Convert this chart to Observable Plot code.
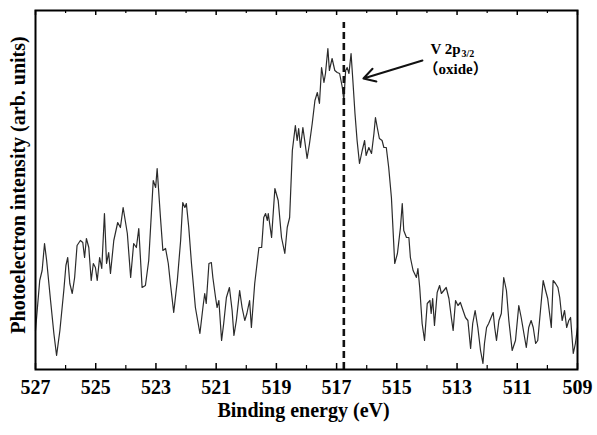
<!DOCTYPE html>
<html>
<head>
<meta charset="utf-8">
<script src="https://cdn.jsdelivr.net/npm/d3@7"></script>
<script src="https://cdn.jsdelivr.net/npm/@observablehq/plot@0.6"></script>
<style>
  html, body { margin: 0; padding: 0; background: #fff; }
</style>
</head>
<body>
<div id="chart"></div>
<script>
// Binding energy (eV)
const energy = [
  527.00,526.86,526.78,526.70,526.63,526.50,526.39,526.30,526.19,526.06,
  525.99,525.93,525.86,525.78,525.70,525.62,525.51,525.43,525.37,525.31,
  525.23,525.15,525.08,525.01,524.95,524.87,524.80,524.71,524.64,524.57,
  524.51,524.40,524.27,524.18,524.09,523.95,523.84,523.74,523.65,523.57,
  523.46,523.35,523.24,523.09,523.01,522.96,522.85,522.77,522.68,
  522.59,522.52,522.41,522.29,522.18,522.11,522.04,521.99,521.91,521.82,
  521.69,521.54,521.44,521.38,521.33,521.24,521.16,521.11,521.02,520.97,
  520.91,520.82,520.75,520.66,520.56,520.47,520.41,520.33,520.22,520.14,
  520.05,519.98,519.89,519.83,519.72,519.58,519.49,519.42,519.36,519.30,
  519.27,519.16,519.05,518.94,518.83,518.72,518.64,518.56,518.47,
  518.37,518.31,518.26,518.20,518.12,518.06,517.98,517.90,517.81,517.72,
  517.64,517.57,517.50,517.42,517.37,517.29,517.24,517.15,517.06,516.98,
  516.90,516.81,516.76,516.70,516.65,516.59,516.52,516.46,516.39,516.32,
  516.24,516.15,516.07,516.02,515.93,515.84,515.76,515.71,515.65,515.58,
  515.49,515.43,515.35,515.27,515.18,515.07,514.98,514.88,514.82,
  514.77,514.68,514.60,514.55,514.46,514.35,514.30,514.24,514.16,514.08,
  513.99,513.90,513.86,513.81,513.75,513.66,513.58,513.52,513.44,513.36,
  513.27,513.19,513.13,513.05,512.97,512.89,512.80,512.72,512.64,512.55,
  512.48,512.40,512.31,512.22,512.14,512.09,512.02,511.95,511.87,511.80,
  511.75,511.69,511.61,511.53,511.45,511.36,511.28,511.17,511.06,510.95,
  510.87,510.78,510.70,510.62,510.54,510.47,510.39,510.32,510.23,510.14,
  510.06,509.99,509.87,509.81,509.73,509.65,509.59,509.51,509.43,509.36,
  509.29,509.23,509.14,509.07,509.00
];
// Photoelectron intensity (arb. units)
const intensity = [
  39,89,99,126,109,69,36,14,39,79,
  104,112,86,76,92,124,129,127,112,131,
  122,89,106,102,89,112,101,156,106,117,
  96,129,147,142,162,136,92,126,122,141,
  82,84,109,189,182,201,152,119,121,
  106,86,57,89,129,167,162,166,142,106,
  62,36,62,76,66,106,107,92,72,62,
  69,29,46,72,82,59,34,49,79,62,
  49,56,69,42,86,122,122,152,156,149,
  156,132,181,169,132,116,142,152,219,
  244,229,241,222,242,229,211,226,246,269,
  277,266,302,287,296,321,299,311,299,297,
  296,282,269,299,302,296,316,289,256,229,
  206,219,229,214,222,216,236,252,242,231,
  229,222,222,202,172,106,116,142,166,
  139,132,132,112,99,92,101,82,46,29,
  66,69,56,71,44,77,84,76,79,82,
  71,52,39,69,64,67,59,52,49,21,
  46,59,42,19,6,26,42,46,52,57,
  42,29,49,56,92,79,49,19,29,64,
  52,36,22,42,49,42,26,29,59,89,
  79,71,42,89,86,82,72,49,59,42,
  49,52,16,26,42
];
const majorTicks = [527, 525, 523, 521, 519, 517, 515, 513, 511, 509];
const minorTicks = [526, 524, 522, 520, 518, 516, 514, 512, 510];
const peakEnergy = [516.76];
const arrowFrom = [{e: 514.15, v: 309}];
const arrowTo = [{e: 516.11, v: 291}];
const labelMain = ["V 2p"];
const labelSub = ["3/2"];
const labelState = ["（oxide）"];
const xTitle = "Binding energy (eV)";
const yTitle = "Photoelectron intensity (arb. units)";

const data = energy.map((e, i) => ({e, v: intensity[i]}));
const arrows = arrowFrom.map((a, i) => ({x1: a.e, y1: a.v, x2: arrowTo[i].e, y2: arrowTo[i].v}));

const chart = Plot.plot({
  width: 597,
  height: 435,
  marginLeft: 35,
  marginRight: 20,
  marginTop: 10,
  marginBottom: 66,
  x: {domain: [527, 509]},
  y: {domain: [0, 359], axis: null},
  style: {fontFamily: "'Liberation Serif', 'Times New Roman', serif", fontSize: "20px", fontWeight: "bold", color: "#000", background: "#fff"},
  marks: [
    Plot.axisX(majorTicks, {tickSize: 0, tickPadding: 10, label: null, tickFormat: d => String(d)}),
    Plot.ruleX(majorTicks, {x: d => d, y1: 0, y2: 6, stroke: "#000", strokeWidth: 1.5}),
    Plot.ruleX(minorTicks, {x: d => d, y1: 0, y2: 4, stroke: "#000", strokeWidth: 1.2}),
    Plot.ruleX(majorTicks, {x: d => d, y1: 359, y2: 354, stroke: "#000", strokeWidth: 1.5}),
    Plot.ruleX(minorTicks, {x: d => d, y1: 359, y2: 356, stroke: "#000", strokeWidth: 1.2}),
    Plot.line(data, {x: "e", y: "v", stroke: "#2b2b2b", strokeWidth: 1.2}),
    Plot.ruleX(peakEnergy, {x: d => d, y1: 0, y2: 347, stroke: "#111", strokeWidth: 2.6, strokeDasharray: "7,4"}),
    Plot.arrow(arrows, {x1: "x1", y1: "y1", x2: "x2", y2: "y2", stroke: "#111", strokeWidth: 2, headLength: 10}),
    Plot.text(labelMain, {x: 513.88, y: 316, text: d => d, textAnchor: "start", lineAnchor: "bottom", fontSize: 15}),
    Plot.text(labelSub, {x: 513.88, y: 316, text: d => d, textAnchor: "start", lineAnchor: "bottom", fontSize: 10, dx: 31, dy: 3}),
    Plot.text(labelState, {x: 513.05, y: 300, text: d => d, textAnchor: "middle", fontSize: 15, fontFamily: "'Liberation Serif', 'Noto Sans CJK SC', serif"}),
    Plot.text([xTitle], {frameAnchor: "bottom", text: d => d, textAnchor: "middle", lineAnchor: "middle", dy: 41, dx: -3}),
    Plot.text([yTitle], {frameAnchor: "left", text: d => d, textAnchor: "middle", lineAnchor: "middle", rotate: -90, dx: -17, dy: -5}),
    Plot.frame({stroke: "#000", strokeWidth: 2})
  ]
});
document.getElementById("chart").appendChild(chart);
</script>
</body>
</html>
